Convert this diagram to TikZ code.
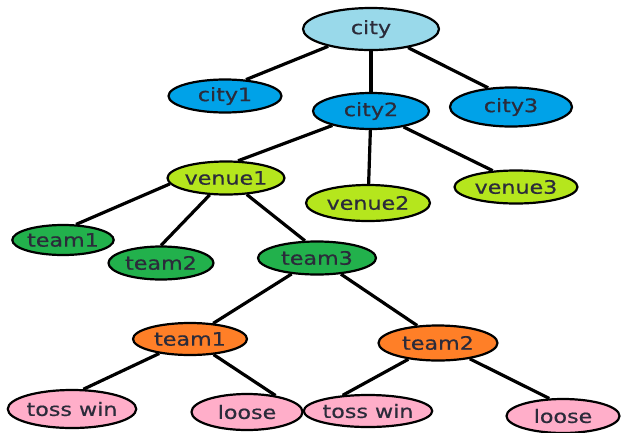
\documentclass[tikz,border=0pt]{standalone}
\usepackage{fontspec}
\setmainfont[FakeStretch=1.2, FakeBold=0.6]{DejaVu Sans}
\usepackage{tikz}
\usetikzlibrary{shapes.geometric}

\definecolor{rootblue}{HTML}{99D9EA}
\definecolor{cityblue}{HTML}{00A2E8}
\definecolor{venuelime}{HTML}{B5E61D}
\definecolor{teamgreen}{HTML}{22B14C}
\definecolor{matchorange}{HTML}{FF7F27}
\definecolor{tosspink}{HTML}{FFAEC9}
\definecolor{inkgray}{HTML}{2B2B3A}

\begin{document}
\begin{tikzpicture}[x=1pt, y=-1pt,
    bubble/.style={ellipse, draw=black, line width=2.2pt, inner sep=0pt, text=inkgray,
        font=\fontsize{18.5}{22}\selectfont},
    rootnode/.style={bubble, fill=rootblue},
    citynode/.style={bubble, fill=cityblue},
    venuenode/.style={bubble, fill=venuelime},
    teamnode/.style={bubble, fill=teamgreen},
    matchnode/.style={bubble, fill=matchorange},
    tossnode/.style={bubble, fill=tosspink},
    link/.style={line width=3.2pt, black}]

    \useasboundingbox (0,0) rectangle (627,432);
    \fill[white] (0,0) rectangle (627,432);

    \node[rootnode, minimum width=136pt, minimum height=42pt] (city) at (371,29) {city};

    \node[citynode, minimum width=113pt, minimum height=33pt] (city1) at (225,96) {city1};
    \node[citynode, minimum width=116pt, minimum height=36pt] (city2) at (371,111) {city2};
    \node[citynode, minimum width=122pt, minimum height=39pt] (city3) at (511,107) {city3};

    \node[venuenode, minimum width=109pt, minimum height=33pt] (venue1) at (226,178) {venue1};
    \node[venuenode, minimum width=124pt, minimum height=36pt] (venue2) at (368,203) {venue2};
    \node[venuenode, minimum width=123pt, minimum height=33pt] (venue3) at (516,187) {venue3};

    \node[teamnode, minimum width=100pt, minimum height=30pt] (team1) at (63,240) {team1};
    \node[teamnode, minimum width=105pt, minimum height=33pt] (team2) at (161,263) {team2};
    \node[teamnode, minimum width=118pt, minimum height=33pt] (team3) at (317,258) {team3};

    \node[matchnode, minimum width=114pt, minimum height=32pt] (match1) at (190,339) {team1};
    \node[matchnode, minimum width=119pt, minimum height=35pt] (match2) at (438,343) {team2};

    \node[tossnode, minimum width=111pt, minimum height=38pt] (win1) at (72,409) {toss win};
    \node[tossnode, minimum width=111pt, minimum height=36pt] (lose1) at (247,412) {loose};
    \node[tossnode, minimum width=120pt, minimum height=32pt] (win2) at (368,411) {toss win};
    \node[tossnode, minimum width=113pt, minimum height=34pt] (lose2) at (563,416) {loose};

    \draw[link] (city) -- (city1.38);
    \draw[link] (city) -- (city2);
    \draw[link] (city) -- (city3.140);
    \draw[link] (city2) -- (venue1.55);
    \draw[link] (city2) -- (venue2);
    \draw[link] (city2) -- (venue3.145);
    \draw[link] (venue1.186) -- (team1.50);
    \draw[link] (venue1) -- (team2.north);
    \draw[link] (venue1) -- (team3.125);
    \draw[link] (team3) -- (match1.34);
    \draw[link] (team3) -- (match2.140);
    \draw[link] (match1) -- (win1.60);
    \draw[link] (match1) -- (lose1.30);
    \draw[link] (match2) -- (win2.148);
    \draw[link] (match2) -- (lose2.128);

\end{tikzpicture}
\end{document}
